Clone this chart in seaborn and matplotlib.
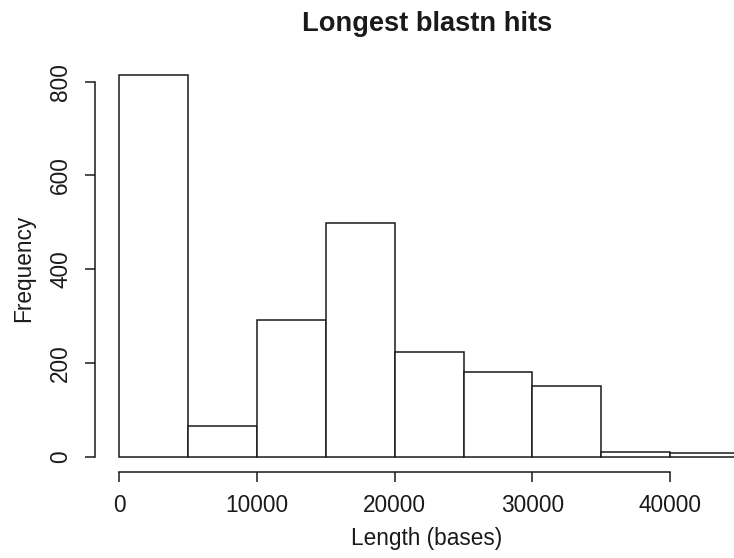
import matplotlib
matplotlib.use("Agg")
import matplotlib.pyplot as plt
import seaborn as sns
import numpy as np
import pandas as pd

# Data (histogram bins of length, 5000-wide)
bin_edges = [0, 5000, 10000, 15000, 20000, 25000, 30000, 35000, 40000, 45000]
bin_starts = [0, 5000, 10000, 15000, 20000, 25000, 30000, 35000, 40000]
counts = [814, 65, 291, 499, 223, 181, 151, 10, 7]
x_ticks = [0, 10000, 20000, 30000, 40000]
y_ticks = [0, 200, 400, 600, 800]

sns.set_theme(style="white")
plt.rcParams['font.family'] = ['Liberation Sans', 'DejaVu Sans']

W, H = 734, 558
fig = plt.figure(figsize=(W / 100, H / 100), dpi=100)

# axes placement in pixels
left_px, right_px = 95, 734
bottom_px, top_px = 472.3, 60
ax = fig.add_axes([left_px / W, 1 - bottom_px / H,
                   (right_px - left_px) / W, (bottom_px - top_px) / H])

df = pd.DataFrame({"start": bin_starts, "count": counts})
df["mid"] = df["start"] + 2500
sns.histplot(data=df, x="mid", weights="count", bins=bin_edges, stat="count",
             color="white", edgecolor="#1a1a1a", linewidth=1.1, alpha=1,
             ax=ax)

# data -> pixel mapping
x0_px, xscale = 119.3, 137.7 / 10000
y0_px, yscale = 456.7, 375.0 / 800
ax.set_xlim((left_px - x0_px) / xscale, (right_px - x0_px) / xscale)
ax.set_ylim(-(bottom_px - y0_px) / yscale, (y0_px - top_px) / yscale)

for s in ["top", "right"]:
    ax.spines[s].set_visible(False)
for s in ["left", "bottom"]:
    ax.spines[s].set_color("#1a1a1a")
    ax.spines[s].set_linewidth(1.1)
ax.spines["left"].set_bounds(0, 800)
ax.spines["bottom"].set_bounds(0, 40000)

ax.set_xticks(x_ticks)
ax.set_xticklabels([str(v) for v in x_ticks])
ax.set_yticks(y_ticks)
ax.set_yticklabels([str(v) for v in y_ticks], rotation=90, va="center")
ax.tick_params(axis="both", which="major", length=7.5, width=1.1,
               color="#1a1a1a", labelsize=16.3, labelcolor="#1a1a1a",
               direction="out", left=True, bottom=True)
ax.tick_params(axis="x", pad=8)
ax.tick_params(axis="y", pad=9)
ax.set_xlabel("")
ax.set_ylabel("")
ax.grid(False)

cx = 427 / W
fig.text(cx, 1 - 24 / H, "Longest blastn hits", ha="center", va="center",
         fontsize=19.6, fontweight="bold", color="#1a1a1a")
fig.text(cx, 1 - 538 / H, "Length (bases)", ha="center", va="center",
         fontsize=16.3, color="#1a1a1a")
fig.text(24 / W, 1 - 268 / H, "Frequency", ha="center", va="center",
         rotation=90, fontsize=16.3, color="#1a1a1a")

fig.savefig("out.png", dpi=100)
